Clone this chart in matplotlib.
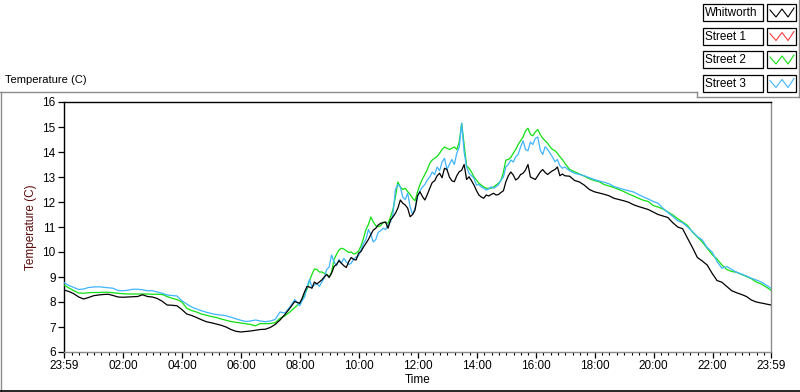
import matplotlib.pyplot as plt
import numpy as np
from matplotlib.lines import Line2D
from matplotlib.patches import Rectangle

# samples every 10 minutes, starting at 23:59
sample_minutes = np.arange(0, 1441, 10)
# extra in-between readings for the noisy part of the day (08:04 - 16:54)
mid_minutes = np.arange(485, 1016, 10)

whitworth = [
    8.48, 8.42, 8.33, 8.20, 8.12, 8.18, 8.25, 8.28, 8.30, 8.31,
    8.26, 8.20, 8.19, 8.20, 8.21, 8.22, 8.29, 8.22, 8.20, 8.14,
    8.03, 7.88, 7.87, 7.85, 7.70, 7.52, 7.46, 7.38, 7.29, 7.21,
    7.17, 7.12, 7.07, 7.00, 6.90, 6.83, 6.80, 6.82, 6.84, 6.87,
    6.90, 6.91, 6.98, 7.10, 7.28, 7.50, 7.75, 8.02, 7.95, 8.41,
    8.60, 8.80, 8.80, 9.00, 8.98, 9.42, 9.65, 9.45, 9.62, 9.70,
    9.95, 10.20, 10.50, 10.88, 11.08, 11.17, 10.95, 11.40, 11.75, 11.95,
    11.75, 11.50, 12.25, 12.22, 12.30, 12.78, 13.05, 12.97, 13.30, 12.85,
    13.05, 13.27, 12.90, 12.85, 12.46, 12.20, 12.28, 12.30, 12.28, 12.38,
    12.81, 13.20, 12.88, 13.10, 13.28, 13.00, 12.90, 13.20, 13.18, 13.18,
    13.30, 13.05, 13.05, 13.03, 12.86, 12.80, 12.67, 12.50, 12.41, 12.36,
    12.31, 12.25, 12.15, 12.10, 12.05, 11.99, 11.89, 11.82, 11.76, 11.70,
    11.60, 11.50, 11.44, 11.38, 11.17, 11.00, 10.93, 10.55, 10.18, 9.78,
    9.64, 9.48, 9.15, 8.86, 8.79, 8.62, 8.45, 8.37, 8.30, 8.22,
    8.08, 8.00, 7.96, 7.92, 7.88,
]
whitworth_mid = [
    8.15, 8.62, 8.55, 8.72, 8.88, 9.10, 9.15, 9.50, 9.55, 9.38,
    9.78, 9.68, 10.02, 10.35, 10.70, 10.95, 11.15, 11.20, 11.28, 11.55,
    12.08, 11.88, 11.41, 11.68, 12.41, 12.08, 12.55, 12.85, 13.15, 13.35,
    13.00, 12.81, 13.21, 13.50, 13.01, 12.68, 12.28, 12.15, 12.24, 12.35,
    12.30, 12.45, 13.05, 13.08, 12.95, 13.15, 13.50, 12.95, 13.05, 13.30,
    13.10, 13.25, 13.40, 13.12,
]

street_1 = []  # no trace visible on the chart
street_1_mid = []

street_2 = [
    8.68, 8.56, 8.45, 8.36, 8.35, 8.37, 8.38, 8.38, 8.39, 8.39,
    8.37, 8.35, 8.33, 8.32, 8.32, 8.32, 8.32, 8.32, 8.31, 8.31,
    8.30, 8.22, 8.15, 8.10, 8.00, 7.75, 7.66, 7.60, 7.52, 7.47,
    7.42, 7.38, 7.32, 7.27, 7.22, 7.19, 7.16, 7.13, 7.10, 7.05,
    7.14, 7.13, 7.14, 7.17, 7.35, 7.45, 7.60, 7.78, 7.95, 8.30,
    8.85, 9.32, 9.20, 9.15, 9.02, 9.70, 10.08, 10.12, 9.98, 9.92,
    10.04, 10.55, 11.10, 11.20, 11.01, 11.20, 11.15, 11.70, 12.80, 12.50,
    12.42, 12.15, 12.40, 12.92, 13.30, 13.68, 13.82, 14.10, 14.15, 14.15,
    14.10, 15.15, 13.45, 13.20, 12.88, 12.68, 12.55, 12.55, 12.68, 12.85,
    13.68, 13.78, 14.10, 14.45, 14.85, 14.70, 14.80, 14.70, 14.45, 14.21,
    14.05, 13.81, 13.55, 13.30, 13.21, 13.12, 13.03, 12.93, 12.86, 12.81,
    12.70, 12.64, 12.58, 12.50, 12.42, 12.32, 12.24, 12.15, 12.07, 12.02,
    11.86, 11.80, 11.72, 11.60, 11.48, 11.33, 11.20, 11.06, 10.80, 10.60,
    10.40, 10.15, 9.90, 9.72, 9.48, 9.30, 9.22, 9.19, 9.10, 9.02,
    8.93, 8.80, 8.72, 8.60, 8.47,
]
street_2_mid = [
    8.10, 8.50, 9.10, 9.30, 9.20, 9.10, 9.20, 9.90, 10.15, 10.05,
    10.00, 9.95, 10.25, 10.90, 11.40, 11.05, 11.05, 11.18, 11.40, 12.20,
    12.60, 12.55, 12.30, 12.05, 12.70, 13.10, 13.55, 13.75, 13.95, 14.20,
    14.10, 14.20, 14.40, 14.30, 13.35, 13.00, 12.75, 12.60, 12.55, 12.60,
    12.75, 13.20, 13.70, 13.95, 14.30, 14.60, 14.95, 14.65, 14.90, 14.55,
    14.35, 14.10, 13.95, 13.70,
]

street_3 = [
    8.77, 8.66, 8.58, 8.50, 8.52, 8.58, 8.60, 8.61, 8.59, 8.57,
    8.55, 8.46, 8.45, 8.47, 8.51, 8.51, 8.49, 8.45, 8.45, 8.40,
    8.35, 8.28, 8.26, 8.24, 8.05, 7.92, 7.80, 7.72, 7.65, 7.59,
    7.54, 7.50, 7.48, 7.45, 7.39, 7.33, 7.27, 7.22, 7.24, 7.28,
    7.24, 7.21, 7.24, 7.30, 7.60, 7.56, 7.80, 8.10, 7.85, 8.20,
    8.90, 8.68, 8.62, 8.95, 9.40, 9.60, 9.70, 9.75, 9.50, 9.72,
    9.85, 10.35, 10.90, 10.40, 10.79, 10.95, 11.08, 11.50, 12.70, 12.20,
    12.35, 11.50, 12.20, 12.60, 12.88, 13.20, 13.40, 13.60, 13.30, 13.70,
    13.95, 15.15, 13.40, 13.05, 12.68, 12.60, 12.48, 12.61, 12.61, 12.88,
    13.41, 13.68, 13.81, 14.20, 14.10, 14.40, 14.55, 14.08, 14.21, 13.95,
    13.61, 13.45, 13.40, 13.25, 13.15, 13.10, 13.05, 12.97, 12.90, 12.84,
    12.79, 12.73, 12.62, 12.56, 12.50, 12.45, 12.40, 12.30, 12.20, 12.12,
    12.02, 11.95, 11.75, 11.58, 11.42, 11.25, 11.17, 11.00, 10.82, 10.62,
    10.48, 10.18, 10.00, 9.62, 9.35, 9.42, 9.30, 9.19, 9.12, 9.04,
    8.95, 8.88, 8.80, 8.68, 8.55,
]
street_3_mid = [
    8.05, 8.60, 8.60, 8.75, 8.80, 9.30, 9.88, 9.45, 9.55, 9.60,
    9.55, 9.80, 10.10, 10.50, 10.70, 10.50, 10.85, 10.90, 11.20, 12.50,
    12.60, 12.10, 11.80, 11.75, 12.45, 12.70, 13.00, 13.10, 13.25, 13.75,
    13.50, 13.50, 14.20, 14.00, 13.15, 12.95, 12.70, 12.55, 12.52, 12.55,
    12.70, 13.00, 13.50, 13.60, 13.90, 14.45, 14.05, 14.30, 14.60, 13.90,
    14.10, 13.80, 13.70, 13.35,
]

series_names = ["Whitworth", "Street 1", "Street 2", "Street 3"]
series_colors = ["#000000", "#ff3c3c", "#10e010", "#3fb4ff"]

tick_minutes = [0, 121, 241, 361, 481, 601, 721, 841, 961, 1081, 1201, 1321, 1440]
tick_labels = ["23:59", "02:00", "04:00", "06:00", "08:00", "10:00", "12:00",
               "14:00", "16:00", "18:00", "20:00", "22:00", "23:59"]

font = "Liberation Sans"
plt.rcParams["font.family"] = [font, "DejaVu Sans"]

fig = plt.figure(figsize=(8.0, 3.92), dpi=100)

# page overlay in pixel units for frame and legend
page = fig.add_axes([0, 0, 1, 1])
page.set_xlim(0, 800)
page.set_ylim(392, 0)
page.axis("off")

gray = "#8c8c8c"
page.plot([0, 697], [91.5, 91.5], color=gray, lw=1.0)
page.plot([697, 697], [91.5, 96.5], color=gray, lw=1.0)
page.plot([697, 799], [96.5, 96.5], color=gray, lw=1.0)
page.plot([798.5, 798.5], [0, 96.5], color=gray, lw=1.0)
page.plot([1, 1], [91.5, 391], color=gray, lw=1.0)
page.plot([0, 800], [390.5, 390.5], color="black", lw=1.2)
page.text(5, 80, "Temperature (C)", fontsize=8, va="center", ha="left")

ax = fig.add_axes([64 / 800, 1 - 352 / 392, 707 / 800, 250 / 392])
ax.set_zorder(2)

data = {
    "Whitworth": (whitworth, whitworth_mid),
    "Street 1": (street_1, street_1_mid),
    "Street 2": (street_2, street_2_mid),
    "Street 3": (street_3, street_3_mid),
}
order = {"Whitworth": 5, "Street 1": 2, "Street 2": 3, "Street 3": 4}
for name, color in zip(series_names, series_colors):
    main, mid = data[name]
    t = np.concatenate([sample_minutes[:len(main)], mid_minutes[:len(mid)]])
    v = np.concatenate([np.asarray(main, float), np.asarray(mid, float)])
    idx = np.argsort(t, kind="stable")
    ax.plot(t[idx], v[idx], color=color, lw=0.9, zorder=order[name])

ax.set_xlim(0, 1440)
ax.set_ylim(6, 16)
ax.set_yticks(range(6, 17))
ax.set_xticks(tick_minutes)
ax.set_xticklabels(tick_labels)
ax.set_xticks(np.arange(121 - 15 * 8, 1440, 15), minor=True)
ax.tick_params(axis="both", which="major", direction="out", length=4,
               width=0.9, labelsize=8.5, pad=2)
ax.tick_params(axis="x", which="minor", direction="out", length=2.5, width=0.8)
ax.tick_params(axis="y", which="minor", length=0)

ax.spines["left"].set_color("black")
ax.spines["top"].set_color("black")
ax.spines["right"].set_color(gray)
ax.spines["bottom"].set_color(gray)
for s in ax.spines.values():
    s.set_linewidth(1.0)

ax.set_xlabel("Time", fontsize=8.5, labelpad=1)
ax.set_ylabel("Temperature (C)", fontsize=8.5, color="#5a0a0a", labelpad=4)

# legend: name boxes with a small line icon next to each
for i, (name, color) in enumerate(zip(series_names, series_colors)):
    y0 = 4 + i * 23.5
    page.add_patch(Rectangle((703, y0), 60, 17, fill=False, ec="black", lw=0.9))
    page.add_patch(Rectangle((767, y0), 29, 17, fill=False, ec="black", lw=0.9))
    page.text(705, y0 + 9, name, fontsize=8.5, va="center", ha="left")
    page.add_line(Line2D([770, 776, 782, 788, 794],
                         [y0 + 6, y0 + 13, y0 + 5, y0 + 13, y0 + 4],
                         color=color, lw=0.8))

fig.savefig("out.png", dpi=100)
